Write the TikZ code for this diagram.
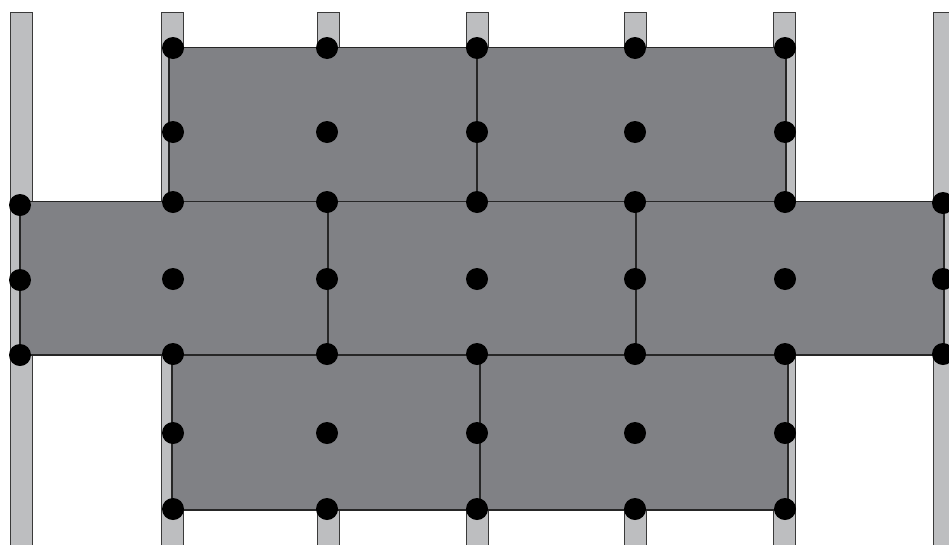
\documentclass[tikz,border=0pt]{standalone}
\begin{document}
\begin{tikzpicture}[x=1pt,y=-1pt,
  bar/.style={fill=barfill,draw=bardraw,line width=0.9pt},
  plate/.style={fill=platefill,draw=black!85,line width=1.4pt},
  divider/.style={draw=black!85,line width=1.4pt},
  dot/.style={circle,fill=black,inner sep=0pt,minimum size=22pt}]
\definecolor{barfill}{HTML}{BDBEC0}
\definecolor{bardraw}{HTML}{3A3A3A}
\definecolor{platefill}{HTML}{808185}
\useasboundingbox (0,0) rectangle (949,544);
% vertical bars
\foreach \xl in {10,161,317,466,624,773,933}
  \draw[bar] (\xl,560) -- (\xl,12) -- (\xl+22,12) -- (\xl+22,560);
% plates
\draw[plate] (169,47.5) rectangle (786,201.5);
\draw[divider] (477,47.5) -- (477,201.5);
\draw[plate] (172,355) rectangle (788,510);
\draw[divider] (480,355) -- (480,510);
\draw[plate] (20,201.5) rectangle (944,355);
\draw[divider] (328,201.5) -- (328,355);
\draw[divider] (636,201.5) -- (636,355);
% dots
\foreach \y [count=\r] in {48,132,202,279,354,433,509}
  \foreach \x [count=\c] in {173,327,477,635,785}
    \node[dot] (d-\r-\c) at (\x,\y) {};
\node[dot] (l-1) at (20,205) {};
\node[dot] (l-2) at (20,280) {};
\node[dot] (l-3) at (20,355) {};
\node[dot] (r-1) at (943,203) {};
\node[dot] (r-2) at (943,279) {};
\node[dot] (r-3) at (943,354) {};
\end{tikzpicture}
\end{document}
